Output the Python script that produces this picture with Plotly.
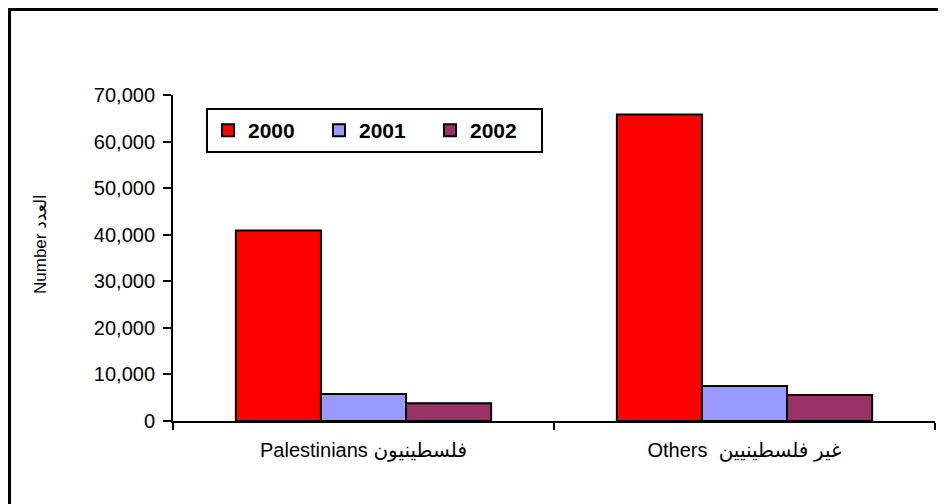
import plotly.graph_objects as go

categories = ["Palestinians فلسطينيون", "Others  غير فلسطينيين"]
years = ["2000", "2001", "2002"]
values_2000 = [40900, 65800]
values_2001 = [5800, 7500]
values_2002 = [3800, 5600]
colors = ["#FF0000", "#9999FF", "#993366"]
y_ticks = [0, 10000, 20000, 30000, 40000, 50000, 60000, 70000]

FONT = "Liberation Sans, Arial, DejaVu Sans, sans-serif"

fig = go.Figure()
for name, vals, col in zip(years, [values_2000, values_2001, values_2002], colors):
    fig.add_trace(go.Bar(
        x=categories, y=vals, name=name,
        marker=dict(color=col, line=dict(color="black", width=2)),
    ))

OFF = 8  # page body margin
W, H = 946, 504
# target plot area in page pixels
PX0, PX1, PY0, PY1 = 173, 935, 95, 421
L = PX0 - OFF
R = W - (PX1 - OFF)
T = PY0 - OFF
B = H - (PY1 - OFF)
pw = PX1 - PX0
ph = PY1 - PY0

def px(xp):
    return (xp - PX0) / pw

def py(yp):
    return (PY1 - yp) / ph

fig.update_layout(
    width=W, height=H,
    margin=dict(l=L, r=R, t=T, b=B, autoexpand=False),
    paper_bgcolor="white", plot_bgcolor="white",
    barmode="group", bargap=0.33, bargroupgap=0,
    font=dict(family=FONT, size=20, color="black"),
    showlegend=True,
    legend=dict(
        orientation="h", x=px(206), xanchor="left", y=py(108), yanchor="top",
        bordercolor="black", borderwidth=2, bgcolor="white",
        font=dict(family=FONT, size=21, color="black", weight="bold"),
        entrywidth=66, entrywidthmode="pixels", itemwidth=30,
        traceorder="normal",
    ),
    xaxis=dict(
        type="category", showline=True, linecolor="black", linewidth=2,
        ticks="outside", tickson="boundaries", ticklen=7, tickwidth=2, tickcolor="black",
        showgrid=False, zeroline=False, tickfont=dict(size=20),
        ticklabelstandoff=10, fixedrange=True,
    ),
    yaxis=dict(
        range=[0, 70000], tickvals=y_ticks, tickformat=",d",
        showline=True, linecolor="black", linewidth=2,
        ticks="outside", ticklen=8, tickwidth=2, tickcolor="black",
        showgrid=False, zeroline=False, tickfont=dict(size=20),
        ticklabelstandoff=4, fixedrange=True,
    ),
    shapes=[dict(
        type="rect", xref="paper", yref="paper",
        x0=px(9.5), x1=px(980), y0=py(560), y1=py(9.5),
        line=dict(color="black", width=3), fillcolor="rgba(0,0,0,0)", layer="above",
    )],
    annotations=[dict(
        text="Number العدد", textangle=-90, xref="paper", yref="paper",
        x=px(40), y=py(244), xanchor="center", yanchor="middle", showarrow=False,
        font=dict(family=FONT, size=17, color="black"),
    )],
)

fig.write_html("out.html")
